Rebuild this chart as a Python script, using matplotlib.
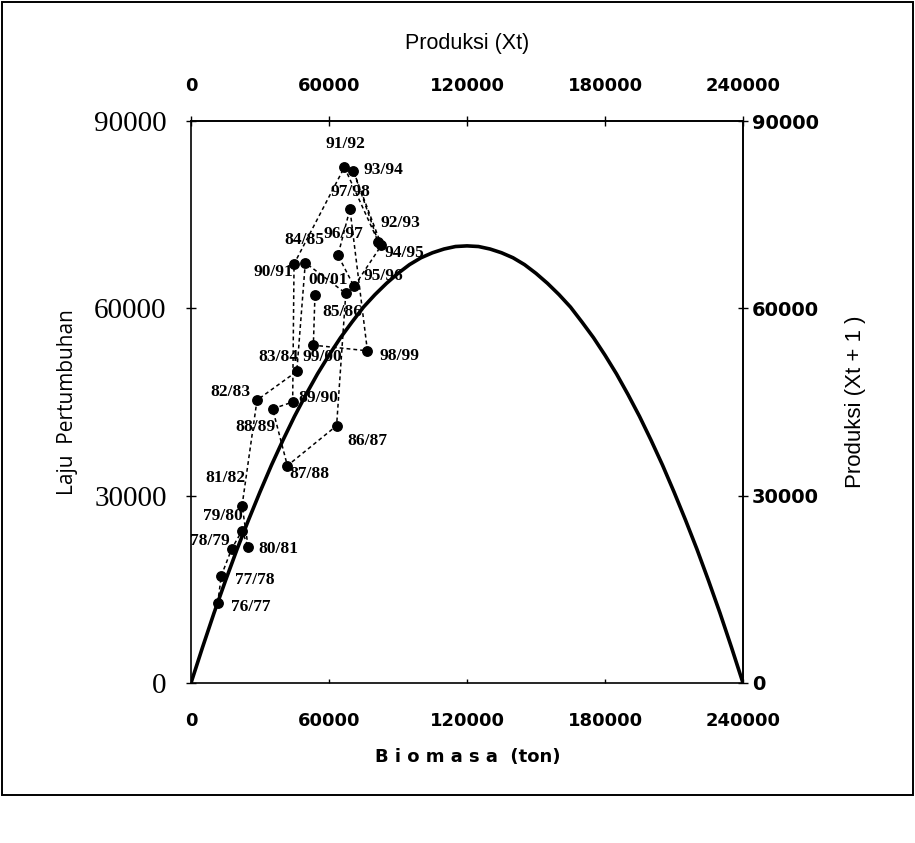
import matplotlib.pyplot as plt
from matplotlib.patches import Rectangle

# season labels, in chronological order (the dashed line follows this order)
seasons = ["76/77", "77/78", "78/79", "79/80", "80/81", "81/82", "82/83", "83/84",
           "84/85", "85/86", "86/87", "87/88", "88/89", "89/90", "90/91", "91/92",
           "92/93", "93/94", "94/95", "95/96", "96/97", "97/98", "98/99", "99/00",
           "00/01"]
biomass = [11600, 13200, 17700, 22200, 24900, 22200, 28700, 46000,
           49700, 67300, 63300, 41900, 35500, 44200, 44800, 66700,
           81500, 70600, 82800, 70900, 63900, 69100, 76700, 53200,
           53900]
growth = [12800, 17200, 21500, 24400, 21700, 28400, 45300, 49900,
          67300, 62400, 41200, 34800, 43900, 45000, 67100, 82600,
          70600, 82000, 70100, 63500, 68500, 75900, 53200, 54100,
          62200]

# surplus production curve, read every 5000 t
curve_biomass = list(range(0, 240001, 5000))
curve_growth = [0, 5700, 11200, 16400, 21400, 26100, 30600, 34900, 38900,
                42700, 46200, 49500, 52500, 55300, 57800, 60200, 62200,
                64000, 65600, 67000, 68100, 68900, 69500, 69900, 70000,
                69900, 69500, 68900, 68100, 67000, 65600, 64000, 62200,
                60200, 57800, 55300, 52500, 49500, 46200, 42700, 38900,
                34900, 30600, 26100, 21400, 16400, 11200, 5700, 0]

x_ticks = [0, 60000, 120000, 180000, 240000]
y_ticks = [0, 30000, 60000, 90000]

# label placement: (ha, dx, dy) in pixels from the point
label_pos = {
    "76/77": ("left", 13, -4), "77/78": ("left", 14, -4),
    "78/79": ("right", -2, 8), "79/80": ("center", -19, 15),
    "80/81": ("left", 10, -2), "81/82": ("center", -17, 28),
    "82/83": ("right", -7, 8), "83/84": ("center", -18, 14),
    "84/85": ("center", -1, 23), "85/86": ("center", -3, -19),
    "86/87": ("left", 11, -15), "87/88": ("left", 2, -8),
    "88/89": ("center", -17, -18), "89/90": ("left", 6, 4),
    "90/91": ("right", -1, -8), "91/92": ("center", 1, 23),
    "92/93": ("left", 2, 19), "93/94": ("left", 10, 1),
    "94/95": ("left", 3, -8), "95/96": ("left", 9, 10),
    "96/97": ("center", 5, 21), "97/98": ("center", 1, 17),
    "98/99": ("left", 12, -5), "99/00": ("center", 9, -12),
    "00/01": ("center", 13, 15),
}

W, H = 915, 843
fig = plt.figure(figsize=(W / 100, H / 100), dpi=100)
ax = fig.add_axes([191 / W, (H - 683) / H, 552 / W, 562 / H])

ax.plot(curve_biomass, curve_growth, color="black", linewidth=2.6, zorder=2,
        solid_joinstyle="round")
ax.plot(biomass, growth, color="black", linewidth=1.1, linestyle=(0, (2.5, 2.0)),
        zorder=3)
ax.plot(biomass, growth, linestyle="none", marker="o", markersize=6.8,
        color="black", zorder=4)

for s, bx, gy in zip(seasons, biomass, growth):
    ha, dx, dy = label_pos[s]
    ax.annotate(s, (bx, gy), xytext=(dx, dy), textcoords="offset pixels",
                ha=ha, va="center", fontsize=12.5, fontweight="bold",
                family="Liberation Serif", zorder=5)

ax.set_xlim(0, 240000)
ax.set_ylim(0, 90000)
for sp in ax.spines.values():
    sp.set_linewidth(1.2)

# bottom axis
ax.set_xticks(x_ticks)
ax.set_xticklabels([str(v) for v in x_ticks], fontsize=13, fontweight="bold",
                   family="DejaVu Sans")
ax.tick_params(axis="x", direction="in", length=3, width=1, pad=21)

# left axis
ax.set_yticks(y_ticks)
ax.set_yticklabels([str(v) for v in y_ticks], fontsize=21, family="Liberation Serif")
ax.tick_params(axis="y", direction="inout", length=7, width=1, pad=14)

# top axis
top = ax.secondary_xaxis("top")
top.set_xticks(x_ticks)
top.set_xticklabels([str(v) for v in x_ticks], fontsize=13, fontweight="bold",
                    family="DejaVu Sans")
top.tick_params(direction="inout", length=7, width=1, pad=15)
top.spines["top"].set_linewidth(1.2)

# right axis
right = ax.secondary_yaxis("right")
right.set_yticks(y_ticks)
right.set_yticklabels([str(v) for v in y_ticks], fontsize=14, fontweight="bold",
                      family="DejaVu Sans")
right.tick_params(direction="inout", length=7, width=1, pad=3)
right.spines["right"].set_linewidth(1.2)

fig.text(467 / W, 1 - 43 / H, "Produksi (Xt)", ha="center", va="center",
         fontsize=15.5, family="Liberation Sans")
fig.text(468 / W, 1 - 757 / H, "B i o m a s a  (ton)", ha="center", va="center",
         fontsize=13, fontweight="bold", family="DejaVu Sans")
fig.text(68 / W, 1 - 402 / H, "Laju  Pertumbuhan", ha="center", va="center",
         rotation=90, fontsize=15, family="Open Sans")
fig.text(855 / W, 1 - 402 / H, "Produksi (Xt + 1 )", ha="center", va="center",
         rotation=90, fontsize=16, family="Liberation Sans")

# outer frame round the figure
fig.patches.append(Rectangle((2 / W, (H - 795) / H), 911 / W, 793 / H,
                             transform=fig.transFigure, fill=False,
                             edgecolor="black", linewidth=1.4))

fig.savefig("out.png", dpi=100)
